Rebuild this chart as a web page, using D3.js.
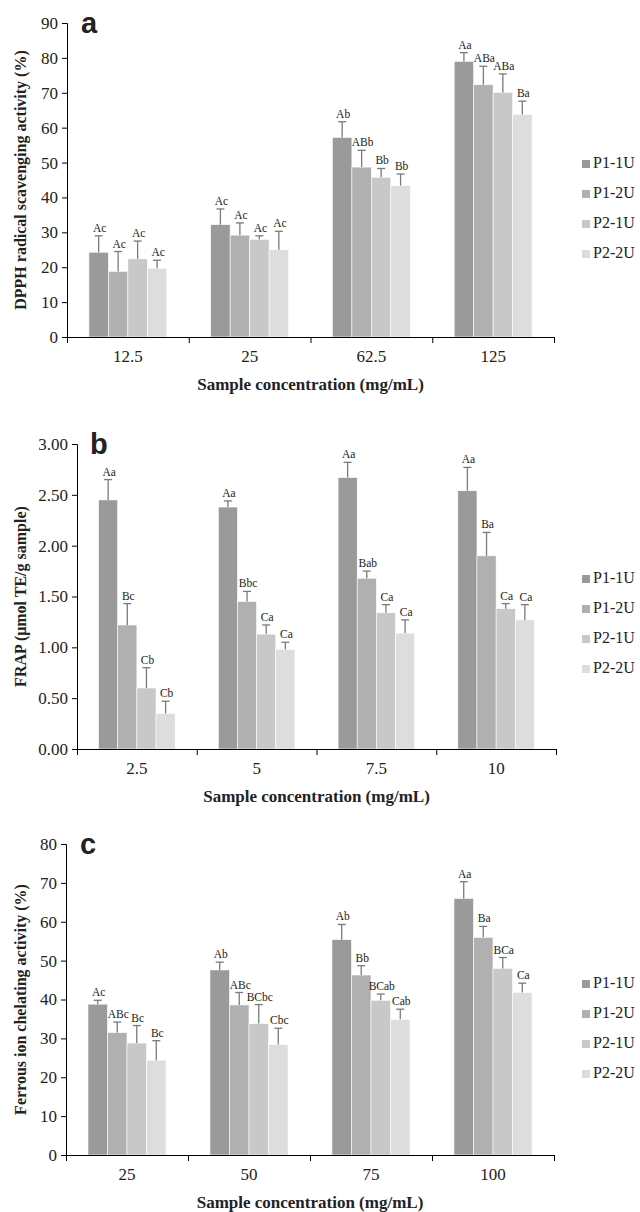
<!DOCTYPE html>
<html>
<head>
<meta charset="utf-8">
<script src="https://cdnjs.cloudflare.com/ajax/libs/d3/7.8.5/d3.min.js"></script>
<style>
  body { margin: 0; background: #fff; }
  svg { display: block; }
  text { font-family: "Liberation Serif", "Times New Roman", serif; fill: #222; }
</style>
</head>
<body>
<div id="chart"></div>
<script>
// series (legend order)
var seriesNames = ["P1-1U", "P1-2U", "P2-1U", "P2-2U"];
var seriesColors = ["#9a9a9a", "#b0b0b0", "#c8c8c8", "#dcdddc"];

// (a) DPPH radical scavenging activity (%)
var dpphConc = ["12.5", "25", "62.5", "125"];
var dpphMean = [[24.3, 18.8, 22.4, 19.7], [32.2, 29.2, 28.0, 25.0], [57.2, 48.7, 45.8, 43.4], [79.0, 72.3, 70.1, 63.8]];
var dpphSd   = [[4.7, 5.7, 5.1, 2.3], [4.5, 3.5, 1.0, 5.3], [4.5, 4.8, 2.5, 3.3], [2.5, 5.3, 5.3, 3.8]];
var dpphLetters = [["Ac", "Ac", "Ac", "Ac"], ["Ac", "Ac", "Ac", "Ac"], ["Ab", "ABb", "Bb", "Bb"], ["Aa", "ABa", "ABa", "Ba"]];

// (b) FRAP (umol TE/g sample)
var frapConc = ["2.5", "5", "7.5", "10"];
var frapMean = [[2.45, 1.22, 0.60, 0.35], [2.38, 1.45, 1.13, 0.98], [2.67, 1.68, 1.34, 1.14], [2.54, 1.90, 1.38, 1.27]];
var frapSd   = [[0.20, 0.21, 0.20, 0.12], [0.06, 0.10, 0.09, 0.07], [0.15, 0.07, 0.08, 0.13], [0.23, 0.23, 0.05, 0.15]];
var frapLetters = [["Aa", "Bc", "Cb", "Cb"], ["Aa", "Bbc", "Ca", "Ca"], ["Aa", "Bab", "Ca", "Ca"], ["Aa", "Ba", "Ca", "Ca"]];

// (c) Ferrous ion chelating activity (%)
var feConc = ["25", "50", "75", "100"];
var feMean = [[38.8, 31.5, 28.8, 24.4], [47.6, 38.6, 33.8, 28.4], [55.4, 46.3, 39.8, 34.9], [66.0, 56.0, 48.0, 41.8]];
var feSd   = [[1.0, 2.7, 4.5, 5.0], [2.0, 3.2, 4.9, 4.2], [3.9, 2.4, 1.6, 2.6], [4.3, 2.8, 2.8, 2.4]];
var feLetters = [["Ac", "ABc", "Bc", "Bc"], ["Ab", "ABc", "BCbc", "Cbc"], ["Ab", "Bb", "BCab", "Cab"], ["Aa", "Ba", "BCa", "Ca"]];

var svg = d3.select("#chart").append("svg").attr("width", 640).attr("height", 1212);

// draws one panel of grouped bars with upper error bars
drawPanel = function(opt){
	var g = svg.append("g");
	var y = d3.scaleLinear().domain([0, opt.yMax]).range([opt.bottom, opt.top]);
	var x = d3.scaleBand().domain(opt.cats).range([opt.left, opt.right]).padding(0);
	var bw = x.bandwidth();
	var xs = d3.scaleBand().domain(seriesNames).range([bw * 0.18, bw * 0.82]).padding(0);

	// y axis
	var yAxis = d3.axisLeft(y).tickValues(d3.range(0, opt.yMax + opt.yStep / 2, opt.yStep))
		.tickFormat(opt.fmt).tickSize(5).tickPadding(4);
	var ya = g.append("g").attr("transform", "translate(" + opt.left + ",0)").call(yAxis);
	ya.select(".domain").attr("stroke", "#000");
	ya.selectAll(".tick line").attr("stroke", "#000");
	ya.selectAll("text").style("font-size", "17px").style("font-family", "Liberation Serif").attr("fill", "#222");

	// bars
	var groups = g.selectAll(".grp").data(opt.cats).enter().append("g")
		.attr("transform", function(d){ return "translate(" + x(d) + ",0)"; });
	groups.each(function(c, i){
		var gg = d3.select(this);
		var rows = seriesNames.map(function(s, j){
			return {s: s, j: j, v: opt.mean[i][j], sd: opt.sd[i][j], lab: opt.letters[i][j]};
		});
		gg.selectAll("rect").data(rows).enter().append("rect")
			.attr("x", function(d){ return xs(d.s); })
			.attr("width", xs.bandwidth())
			.attr("y", function(d){ return y(d.v); })
			.attr("height", function(d){ return opt.bottom - y(d.v); })
			.attr("fill", function(d){ return seriesColors[d.j]; })
			.attr("stroke", "#fff").attr("stroke-width", 0.6);
		var cx = function(d){ return xs(d.s) + xs.bandwidth() / 2; };
		gg.selectAll(".eb").data(rows).enter().append("line")
			.attr("x1", cx).attr("x2", cx)
			.attr("y1", function(d){ return y(d.v); })
			.attr("y2", function(d){ return y(d.v + d.sd); })
			.attr("stroke", "#7a7a7a").attr("stroke-width", 1.3);
		gg.selectAll(".cap").data(rows).enter().append("line")
			.attr("x1", function(d){ return cx(d) - 4; }).attr("x2", function(d){ return cx(d) + 4; })
			.attr("y1", function(d){ return y(d.v + d.sd); })
			.attr("y2", function(d){ return y(d.v + d.sd); })
			.attr("stroke", "#7a7a7a").attr("stroke-width", 1.3);
		gg.selectAll(".lab").data(rows).enter().append("text")
			.attr("x", function(d){ return cx(d) + 1; })
			.attr("y", function(d){ return y(d.v + d.sd) - 4; })
			.attr("text-anchor", "middle")
			.style("font-size", "11.5px")
			.text(function(d){ return d.lab; });
	});

	// x axis: labels centred in bands, ticks on band edges
	var xAxis = d3.axisBottom(x).tickSize(0).tickPadding(13);
	var xa = g.append("g").attr("transform", "translate(0," + opt.bottom + ")").call(xAxis);
	xa.select(".domain").remove();
	xa.selectAll("text").style("font-size", "17px").style("font-family", "Liberation Serif").attr("fill", "#222");
	var edges = d3.scaleLinear().domain([0, opt.cats.length]).range([opt.left, opt.right]);
	var xe = g.append("g").attr("transform", "translate(0," + opt.bottom + ")")
		.call(d3.axisBottom(edges).tickValues(d3.range(0, opt.cats.length + 1)).tickFormat("").tickSize(6).tickSizeOuter(0));
	xe.select(".domain").attr("stroke", "#000");
	xe.selectAll(".tick line").attr("stroke", "#000");

	// titles
	g.append("text")
		.attr("x", (opt.left + opt.right) / 2).attr("y", opt.bottom + 53)
		.attr("text-anchor", "middle")
		.style("font-size", "17px").style("font-weight", "bold")
		.text("Sample concentration (mg/mL)");
	g.append("text")
		.attr("transform", "translate(" + opt.titleX + "," + ((opt.top + opt.bottom) / 2) + ") rotate(-90)")
		.attr("text-anchor", "middle").attr("dominant-baseline", "middle")
		.style("font-size", "16px").style("font-weight", "bold")
		.text(opt.yTitle);
	g.append("text")
		.attr("x", opt.left + opt.letterDx).attr("y", opt.top + 10)
		.style("font-family", "Liberation Sans").style("font-weight", "bold").style("font-size", "29px")
		.attr("fill", "#111")
		.text(opt.letter);

	// legend
	var lg = g.append("g").attr("transform", "translate(582," + opt.legendTop + ")");
	var items = lg.selectAll("g").data(seriesNames).enter().append("g")
		.attr("transform", function(d, i){ return "translate(0," + (i * 30) + ")"; });
	items.append("rect").attr("x", 0).attr("y", -4).attr("width", 8).attr("height", 8)
		.attr("fill", function(d, i){ return seriesColors[i]; });
	items.append("text").attr("x", 11).attr("y", 0).attr("dominant-baseline", "middle")
		.style("font-size", "16px").text(function(d){ return d; });
}

drawPanel({cats: dpphConc, mean: dpphMean, sd: dpphSd, letters: dpphLetters,
	yMax: 90, yStep: 10, fmt: d3.format("d"),
	top: 23, bottom: 337, left: 67, right: 554, titleX: 22, letter: "a", letterDx: 14,
	legendTop: 164, yTitle: "DPPH radical scavenging activity (%)"});

drawPanel({cats: frapConc, mean: frapMean, sd: frapSd, letters: frapLetters,
	yMax: 3, yStep: 0.5, fmt: d3.format(".2f"),
	top: 444, bottom: 749, left: 77, right: 556, titleX: 22, letter: "b", letterDx: 13,
	legendTop: 579, yTitle: "FRAP (μmol TE/g sample)"});

drawPanel({cats: feConc, mean: feMean, sd: feSd, letters: feLetters,
	yMax: 80, yStep: 10, fmt: d3.format("d"),
	top: 844, bottom: 1155, left: 66, right: 554, titleX: 22, letter: "c", letterDx: 14,
	legendTop: 984, yTitle: "Ferrous ion chelating activity (%)"});
</script>
</body>
</html>
